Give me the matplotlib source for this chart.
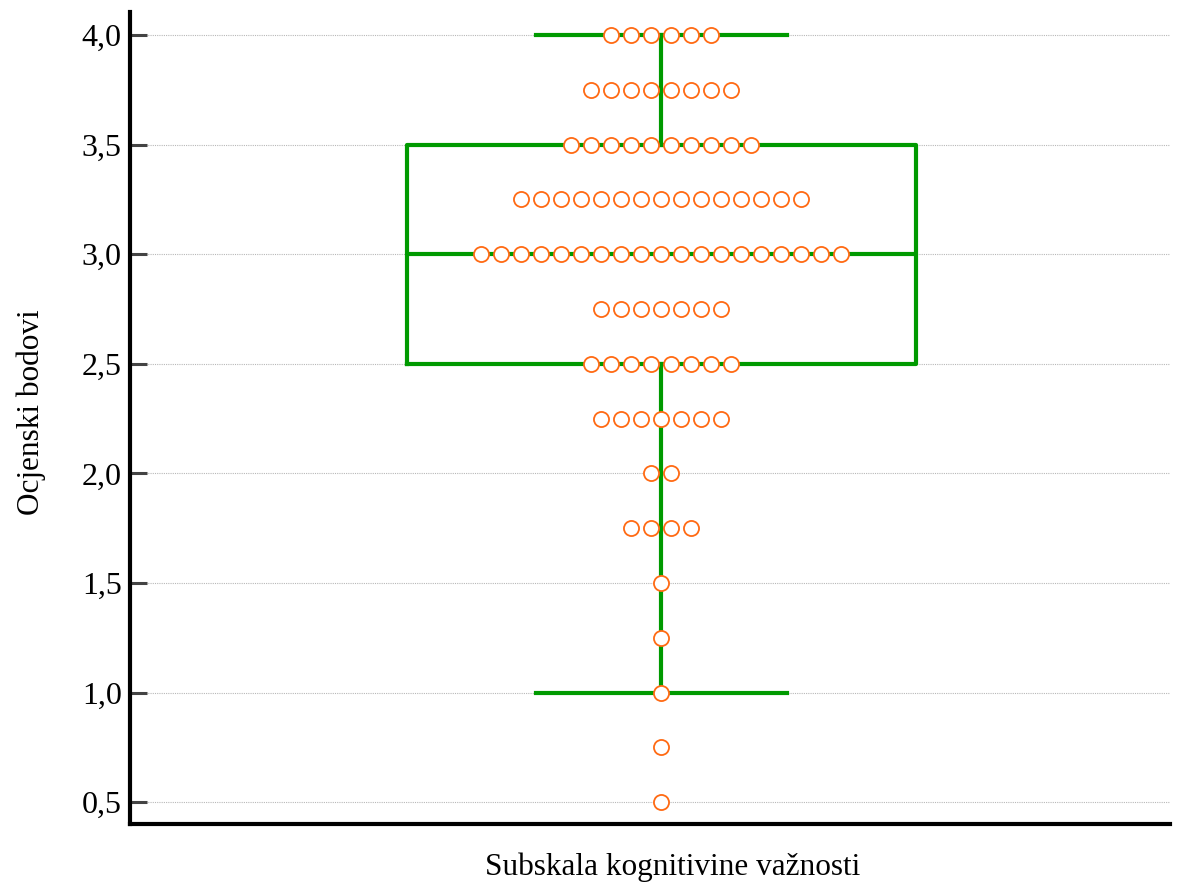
import numpy as np
import matplotlib.pyplot as plt
from matplotlib.ticker import FuncFormatter

# score levels and how many respondents had each
score_levels = [0.5, 0.75, 1.0, 1.25, 1.5, 1.75, 2.0, 2.25, 2.5, 2.75, 3.0, 3.25, 3.5, 3.75, 4.0]
score_counts = [1, 1, 1, 1, 1, 4, 2, 7, 8, 7, 19, 15, 10, 8, 6]
y_ticks = [0.5, 1.0, 1.5, 2.0, 2.5, 3.0, 3.5, 4.0]

x_label = 'Subskala kognitivine važnosti'
y_label = 'Ocjenski bodovi'

plt.rcParams['font.family'] = ['Liberation Serif', 'DejaVu Serif']

scores = np.repeat(score_levels, score_counts)

fig = plt.figure(figsize=(11.81, 8.88), dpi=100)
ax = fig.add_axes([130 / 1181, 64 / 888, 1040 / 1181, 812 / 888])

green = '#009a00'
ax.boxplot(scores, positions=[0], widths=25.45, capwidths=12.55,
           whis=1.5, showfliers=False, manage_ticks=False,
           boxprops=dict(color=green, linewidth=3),
           whiskerprops=dict(color=green, linewidth=3),
           capprops=dict(color=green, linewidth=3),
           medianprops=dict(color=green, linewidth=3),
           zorder=2)

# dot strip: each level's points spread side by side around the centre
xs, ys = [], []
for level, n in zip(score_levels, score_counts):
    offsets = np.arange(n) - (n - 1) / 2
    xs.extend(offsets)
    ys.extend([level] * n)
ax.scatter(xs, ys, s=118, facecolor='white', edgecolor='#ff6a13',
           linewidth=1.3, zorder=3)

ax.set_xlim(-531 / 20, 509 / 20)
ax.set_ylim(0.4, 4.105)
ax.set_xticks([])
ax.set_yticks(y_ticks)
ax.yaxis.set_major_formatter(FuncFormatter(lambda v, p: f'{v:.1f}'.replace('.', ',')))
ax.tick_params(axis='y', direction='in', length=12, width=2.2, color='#444444',
               labelsize=23, pad=6)

ax.grid(axis='y', linestyle=(0, (1, 1)), color='#b8b8b8', linewidth=0.8, zorder=0)
ax.set_axisbelow(True)

for side in ['top', 'right']:
    ax.spines[side].set_visible(False)
for side in ['left', 'bottom']:
    ax.spines[side].set_linewidth(3)
    ax.spines[side].set_color('black')

ax.set_xlabel(x_label, fontsize=22.5)
ax.xaxis.set_label_coords((673 - 130) / 1040, -0.035)
ax.set_ylabel(y_label, fontsize=22.5)
ax.yaxis.set_label_coords(-0.081, 0.507)

fig.savefig('out.png', dpi=100)
